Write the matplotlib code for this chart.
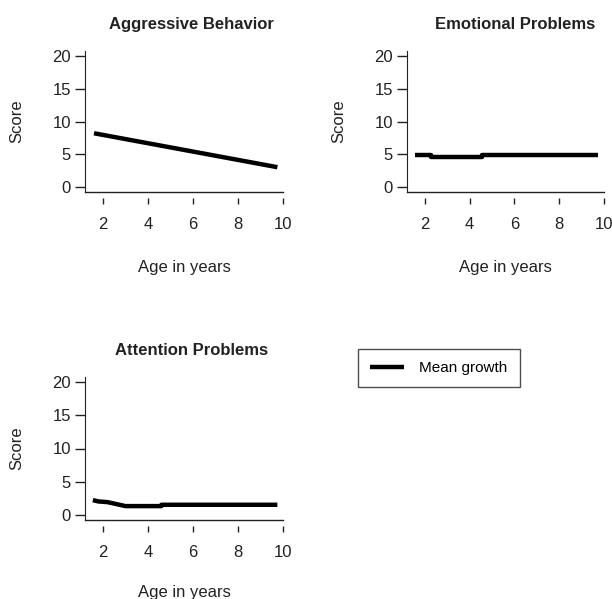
import matplotlib
matplotlib.use("Agg")
import matplotlib.pyplot as plt

plt.rcParams["font.family"] = ["Liberation Sans", "DejaVu Sans"]

# Mean growth curves
aggr_age = [1.6, 9.75]
aggr_score = [8.2, 3.0]

emo_age = [1.55, 2.27, 2.27, 4.55, 4.55, 9.75]
emo_score = [4.8, 4.8, 4.55, 4.55, 4.8, 4.8]

att_age = [1.55, 1.8, 2.2, 2.6, 3.0, 4.6, 4.6, 9.75]
att_score = [2.2, 2.0, 1.9, 1.6, 1.3, 1.3, 1.5, 1.5]

xticks = [2, 4, 6, 8, 10]
yticks = [0, 5, 10, 15, 20]

W, H = 612, 599
fig = plt.figure(figsize=(W / 100, H / 100), dpi=100)
ink = "#222222"


def px_axes(left, top, right, bottom):
    return fig.add_axes([left / W, 1 - bottom / H, (right - left) / W, (bottom - top) / H])


def draw_panel(ax, x, y, title, title_x, xlab_pad):
    ax.plot(x, y, color="black", lw=3.2, solid_capstyle="butt", label="Mean growth")
    ax.set_xlim(1.2, 10.0)
    ax.set_ylim(-0.8, 20.8)
    ax.set_xticks(xticks)
    ax.set_yticks(yticks)
    for s in ["top", "right"]:
        ax.spines[s].set_visible(False)
    # x ticks hang below the box line with a small gap
    ax.spines["bottom"].set_position(("outward", 4))
    ax.spines["bottom"].set_visible(False)
    ax.plot([0, 1], [0, 0], transform=ax.transAxes, color=ink, lw=1, clip_on=False)
    ax.spines["left"].set_color(ink)
    ax.tick_params(axis="x", length=4, width=1, pad=10, labelsize=12, colors=ink)
    ax.tick_params(axis="y", length=7, width=1, pad=3, labelsize=12, colors=ink)
    ax.set_title(title, fontsize=12, fontweight="bold", x=title_x, pad=16, color=ink)
    ax.set_xlabel("Age in years", fontsize=12, labelpad=xlab_pad, color=ink)
    ax.set_ylabel("Score", fontsize=12, labelpad=20, color=ink)


ax1 = px_axes(85, 51, 283, 192)
draw_panel(ax1, aggr_age, aggr_score, "Aggressive Behavior", 0.54, 20)

ax2 = px_axes(407, 51, 604, 192)
draw_panel(ax2, emo_age, emo_score, "Emotional Problems", 0.55, 20)

ax3 = px_axes(85, 377, 283, 520)
draw_panel(ax3, att_age, att_score, "Attention Problems", 0.54, 18)

# legend sits in the empty fourth slot
fig.legend(handles=ax1.get_lines()[:1], labels=["Mean growth"],
           loc="upper left", bbox_to_anchor=(358 / W, 1 - 349 / H),
           frameon=True, fancybox=False, edgecolor=ink, fontsize=11,
           handlelength=2.2, borderpad=0.8, handletextpad=1.0, borderaxespad=0)

fig.savefig("out.png", dpi=100)
